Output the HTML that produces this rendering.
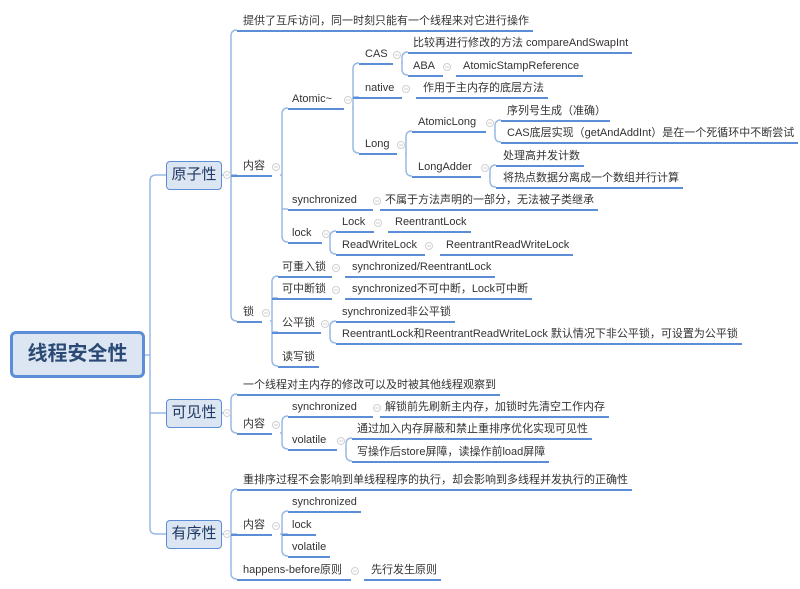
<!DOCTYPE html>
<html><head><meta charset="utf-8">
<style>
body{margin:0;width:800px;height:589px;background:#fff;position:relative;overflow:hidden;font-family:"Liberation Sans","Noto Sans CJK SC",sans-serif;}
.n{position:absolute;height:16px;border-bottom:2px solid #5b8ed6;font-size:11px;color:#333;line-height:14px;white-space:nowrap;box-sizing:content-box;}
.b{position:absolute;background:#dce6f2;border:1.5px solid #5b8ed6;border-radius:4px;color:#1f3864;font-size:15px;text-align:center;box-sizing:border-box;font-family:"Liberation Sans","Noto Sans CJK SC",sans-serif;}
svg{position:absolute;left:0;top:0;}
</style></head><body>
<svg id="s" width="800" height="589"></svg>
<div class="b" style="left:10px;top:331px;width:135px;height:47px;border:3px solid #5b8ed6;border-radius:6px;font-size:20px;font-weight:bold;line-height:41px;color:#2a4a75;">线程安全性</div>
<div class="b" style="left:166px;top:161px;width:56px;height:29px;line-height:26px;">原子性</div>
<div class="b" style="left:166px;top:399px;width:56px;height:29px;line-height:26px;">可见性</div>
<div class="b" style="left:166px;top:520px;width:56px;height:29px;line-height:26px;">有序性</div>
<div id="c"></div>
<script>
var N=[
["提供了互斥访问，同一时刻只能有一个线程来对它进行操作",243,30,237,0],
["内容",243,175,231,276],
["锁",243,321,237,266],
["Atomic~",292,108,288,348],
["synchronized",292,209,288,377],
["lock",292,242,288,326],
["CAS",365,63,359,397],
["native",365,97,353,406],
["Long",365,153,359,401],
["比较再进行修改的方法 compareAndSwapInt",413,52,408,0],
["ABA",413,75,408,447],
["AtomicStampReference",463,75,456,0],
["作用于主内存的底层方法",423,97,416,0],
["AtomicLong",418,131,412,490],
["LongAdder",418,176,412,485],
["序列号生成（准确）",507,120,501,0],
["CAS底层实现（getAndAddInt）是在一个死循环中不断尝试",507,142,501,0],
["处理高并发计数",503,165,496,0],
["将热点数据分离成一个数组并行计算",503,187,496,0],
["不属于方法声明的一部分，无法被子类继承",385,209,380,0],
["Lock",342,231,336,378],
["ReadWriteLock",342,254,336,429],
["ReentrantLock",395,231,388,0],
["ReentrantReadWriteLock",446,254,440,0],
["可重入锁",282,276,278,336],
["可中断锁",282,298,272,336],
["公平锁",282,332,272,325],
["读写锁",282,366,278,0],
["synchronized/ReentrantLock",352,276,345,0],
["synchronized不可中断，Lock可中断",352,298,345,0],
["synchronized非公平锁",342,321,336,0],
["ReentrantLock和ReentrantReadWriteLock 默认情况下非公平锁，可设置为公平锁",342,343,336,0],
["一个线程对主内存的修改可以及时被其他线程观察到",243,394,237,0],
["内容",243,433,237,276],
["synchronized",292,416,288,377],
["volatile",292,449,288,341],
["解锁前先刷新主内存，加锁时先清空工作内存",385,416,380,0],
["通过加入内存屏蔽和禁止重排序优化实现可见性",357,438,352,0],
["写操作后store屏障，读操作前load屏障",357,461,352,0],
["重排序过程不会影响到单线程程序的执行，却会影响到多线程并发执行的正确性",243,489,237,0],
["内容",243,534,231,276],
["happens-before原则",243,579,237,355],
["synchronized",292,511,288,0],
["lock",292,534,282,0],
["volatile",292,556,288,0],
["先行发生原则",371,579,364,0]
];
var c=document.getElementById('c'),h='';
N.forEach(function(a){
 h+='<div class="n" style="left:'+a[3]+'px;top:'+(a[2]-16)+'px;padding-left:'+(a[1]-a[3])+'px;padding-right:'+(a[4]?0:4)+'px;">'+a[0]+'</div>';
});
c.innerHTML=h;
var ds=c.children;
for(var i=0;i<ds.length;i++){var a=N[i];if(a[4]){var w=ds[i].offsetWidth;var need=a[4]-4-a[3];if(need>w)ds[i].style.width=(need-(a[1]-a[3]))+'px';}}
var s='',col='#98b9e6';
function V(vx,ys,py,px){
 var mn=Math.min.apply(null,ys),mx=Math.max.apply(null,ys);
 if(py!=null){mn=Math.min(mn,py);mx=Math.max(mx,py);}
 var r=6;
 s+='<path d="M'+(vx+r)+','+mn+' Q'+vx+','+mn+' '+vx+','+(mn+r)+' L'+vx+','+(mx-r)+' Q'+vx+','+mx+' '+(vx+r)+','+mx+'" fill="none" stroke="'+col+'" stroke-width="1.5"/>';
 ys.forEach(function(y){if(y>mn&&y<mx)s+='<line x1="'+vx+'" y1="'+y+'" x2="'+(vx+r)+'" y2="'+y+'" stroke="'+col+'" stroke-width="1.5"/>';});
 if(py!=null&&px!=null)s+='<line x1="'+px+'" y1="'+py+'" x2="'+vx+'" y2="'+py+'" stroke="'+col+'" stroke-width="1.5"/>';
}
s+='<line x1="145" y1="355" x2="150" y2="355" stroke="'+col+'" stroke-width="1.5"/>';
V(150,[175,413,534]);
s+='<line x1="156" y1="175" x2="166" y2="175" stroke="'+col+'" stroke-width="1.5"/><line x1="156" y1="413" x2="166" y2="413" stroke="'+col+'" stroke-width="1.5"/><line x1="156" y1="534" x2="166" y2="534" stroke="'+col+'" stroke-width="1.5"/>';
V(231,[30,175,321],175,222);
V(282,[108,209,242],175,280);
V(353,[63,97,153],108,352);
V(402,[52,75],63,401);
V(406,[131,176],153,405);
V(495,[120,142],131,494);
V(490,[165,187],176,489);
V(330,[231,254],242,330);
V(272,[276,298,332,366],321,270);
V(330,[321,343],332,329);
V(231,[394,433],413,222);
V(282,[416,449],433,280);
V(346,[438,461],449,345);
V(231,[489,534,579],534,222);
V(282,[511,534,556],534,280);
var circ=[[227,175],[227,413],[227,534]];
N.forEach(function(a){if(a[4])circ.push([a[4],a[2]-8]);});
circ.forEach(function(p){s+='<circle cx="'+p[0]+'" cy="'+p[1]+'" r="3.5" fill="#fff" stroke="#d0d0d0" stroke-width="1"/><line x1="'+(p[0]-2)+'" y1="'+p[1]+'" x2="'+(p[0]+2)+'" y2="'+p[1]+'" stroke="#d0d0d0" stroke-width="1"/>';});
document.getElementById('s').innerHTML=s;
</script>
</body></html>
